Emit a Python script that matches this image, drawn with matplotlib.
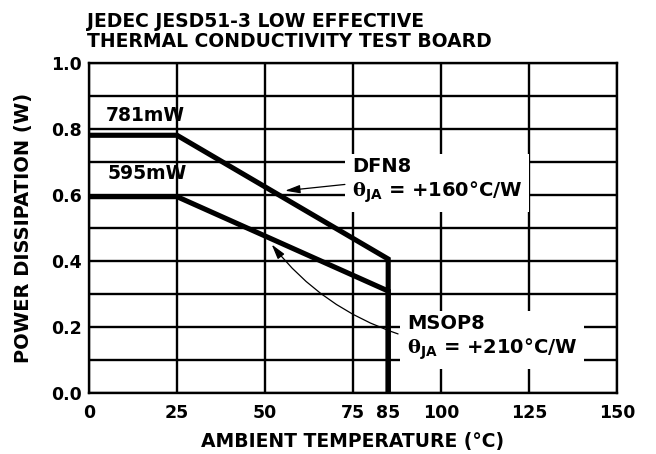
import matplotlib.pyplot as plt

# derating curves: ambient temp (C) vs max power (W)
temp_pts = [0, 25, 85, 85]
dfn8_w = [0.781, 0.781, 0.406, 0.0]
msop8_w = [0.595, 0.595, 0.309, 0.0]

x_ticks = [0, 25, 50, 75, 85, 100, 125, 150]
x_grid = [0, 25, 50, 75, 100, 125, 150]
y_ticks = [0.0, 0.2, 0.4, 0.6, 0.8, 1.0]
y_grid = [0.0, 0.1, 0.2, 0.3, 0.4, 0.5, 0.6, 0.7, 0.8, 0.9, 1.0]

plt.rcParams['font.family'] = 'DejaVu Sans'
plt.rcParams['font.weight'] = 'bold'
# thin upright theta, bold sans subscript
plt.rcParams['mathtext.fontset'] = 'custom'
plt.rcParams['mathtext.rm'] = 'DejaVu Serif'
plt.rcParams['mathtext.bf'] = 'DejaVu Sans:bold'

fig = plt.figure(figsize=(6.56, 4.54), dpi=100)
ax = fig.add_axes([89 / 656, 61 / 454, 528 / 656, 330 / 454])

ax.set_xlim(0, 150)
ax.set_ylim(0, 1.0)

for gx in x_grid:
    ax.axvline(gx, color='black', lw=1.7, zorder=1)
for gy in y_grid:
    ax.axhline(gy, color='black', lw=1.7, zorder=1)

ax.plot(temp_pts, dfn8_w, color='black', lw=3.7, zorder=4, solid_joinstyle='miter')
ax.plot(temp_pts, msop8_w, color='black', lw=3.7, zorder=4, solid_joinstyle='miter')

ax.set_xticks(x_ticks)
ax.set_yticks(y_ticks)
ax.set_yticklabels(['%.1f' % v for v in y_ticks])
ax.tick_params(length=0, labelsize=12.5)
ax.tick_params(axis='x', pad=8)
ax.tick_params(axis='y', pad=5)
for lab in ax.get_xticklabels() + ax.get_yticklabels():
    lab.set_fontweight('bold')

for s in ax.spines.values():
    s.set_linewidth(1.7)

ax.set_xlabel('AMBIENT TEMPERATURE (°C)', fontsize=13.5, fontweight='bold')
ax.xaxis.set_label_coords(0.5, -0.148)
ax.xaxis.label.set_va('center')
ax.set_ylabel('POWER DISSIPATION (W)', fontsize=14, fontweight='bold')
ax.yaxis.set_label_coords(-(89 - 24) / 528, 0.5)
ax.yaxis.label.set_va('center')

fig.text(87 / 656, 1 - 31.5 / 454, 'JEDEC JESD51-3 LOW EFFECTIVE\nTHERMAL CONDUCTIVITY TEST BOARD',
         fontsize=13.5, fontweight='bold', va='center', ha='left', linespacing=1.05)

ax.text(4.8, 0.842, '%dmW' % round(dfn8_w[0] * 1000), fontsize=13.5, fontweight='bold',
        va='center', ha='left', zorder=5)
ax.text(5.2, 0.665, '%dmW' % round(msop8_w[0] * 1000), fontsize=13.5, fontweight='bold',
        va='center', ha='left', zorder=5)

box = dict(facecolor='white', edgecolor='none', pad=5)
ax.text(74.7, 0.643, 'DFN8\n$\\mathrm{\\theta}_{\\mathbf{JA}}$ = +160°C/W', fontsize=14,
        fontweight='bold', va='center', ha='left', bbox=box, zorder=3, linespacing=1.2)
ax.text(90.3, 0.168, 'MSOP8\n$\\mathrm{\\theta}_{\\mathbf{JA}}$ = +210°C/W', fontsize=14,
        fontweight='bold', va='center', ha='left', bbox=box, zorder=3, linespacing=1.2)

arrow = dict(arrowstyle='-|>,head_length=0.9,head_width=0.25', color='black', lw=0.9,
             shrinkA=0, shrinkB=0)
ax.annotate('', xy=(55.7, 0.613), xytext=(72.7, 0.632), arrowprops=arrow, zorder=5)
ax.annotate('', xy=(51.9, 0.45), xytext=(87.8, 0.179),
            arrowprops=dict(arrow, connectionstyle='arc3,rad=-0.15'), zorder=5)

fig.savefig('out.png', dpi=100)
